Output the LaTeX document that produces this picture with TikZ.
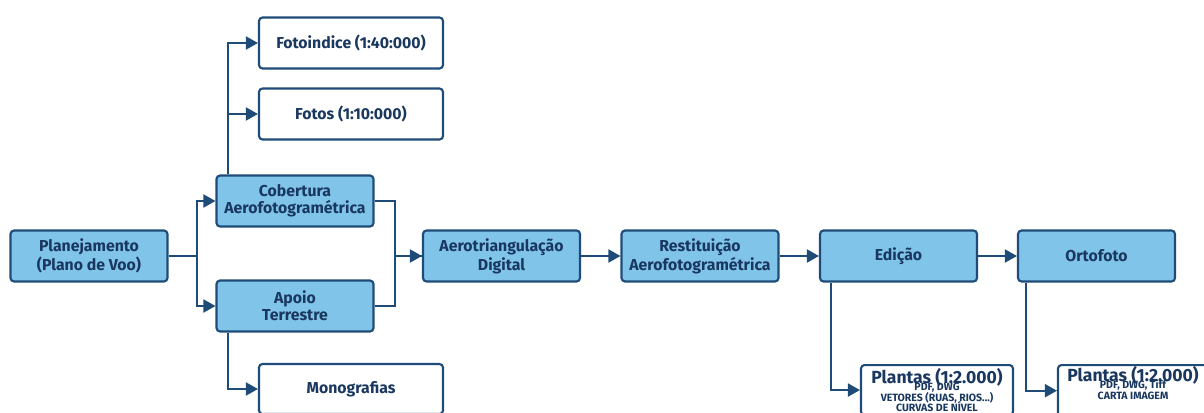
\documentclass[tikz,border=0pt]{standalone}
\usepackage{fontspec}
\setmainfont{Fira Sans}
\usetikzlibrary{arrows.meta,calc,positioning}
\definecolor{linhaazul}{RGB}{30,75,120}
\definecolor{caixaazul}{RGB}{128,196,234}
\definecolor{textoazul}{RGB}{25,55,95}
\newcommand{\titulo}{\fontsize{10}{10}\selectfont}
\newcommand{\miudo}{\fontsize{6}{6.4}\selectfont}

\tikzset{
  etapa/.style={draw=linhaazul, line width=1.2pt, fill=caixaazul, rounded corners=2pt,
    minimum width=3.14cm, minimum height=1.02cm, align=center, text=textoazul,
    font=\bfseries\fontsize{9}{9.5}\selectfont, inner sep=1pt},
  produto/.style={etapa, fill=white, minimum width=3.68cm},
  seta/.style={draw=linhaazul, line width=1.1pt, -{Triangle[length=0.24cm,width=0.26cm]}},
  liga/.style={draw=linhaazul, line width=1.1pt},
}

\begin{document}
\begin{tikzpicture}
    \useasboundingbox (0,0) rectangle (24.08,-8.26);

    % etapas
    \node[etapa] (plan) at (1.78,-5.12) {Planejamento\\(Plano de Voo)};
    \node[etapa] (cob) at (5.90,-4.02) {Cobertura\\Aerofotogramétrica};
    \node[etapa] (apoio) at (5.90,-6.12) {Apoio\\Terrestre};
    \node[etapa] (aero) at (10.03,-5.12) {Aerotriangulação\\Digital};
    \node[etapa] (rest) at (14.00,-5.12) {Restituição\\Aerofotogramétrica};
    \node[etapa] (edic) at (17.97,-5.12) {Edição};
    \node[etapa] (orto) at (21.93,-5.12) {Ortofoto};

    % produtos
    \node[produto] (fotoind) at (7.02,-0.86) {Fotoindice (1:40:000)};
    \node[produto] (fotos) at (7.02,-2.28) {Fotos (1:10:000)};
    \node[produto, minimum height=1.0cm] (mono) at (7.02,-7.78) {Monografias};
    \node[produto, minimum width=3.04cm, minimum height=1.0cm, anchor=north] (pl1) at (18.74,-7.28)
        {\titulo Plantas (1:2.000)\\[-5.5pt]
         \miudo PDF, DWG\\[-3.4pt]\miudo VETORES (RUAS, RIOS...)\\[-3.4pt]\miudo CURVAS DE NÍVEL};
    \node[produto, minimum width=3.0cm, minimum height=1.0cm, anchor=north] (pl2) at (22.66,-7.28)
        {\titulo Plantas (1:2.000)\\[-5.5pt]
         \miudo PDF, DWG, Tiff\\[-3.4pt]\miudo CARTA IMAGEM\\[-1pt]};

    % ligacoes
    \draw[liga] (plan.east) -- ++(0.56,0) coordinate (divide);
    \draw[seta] (divide) |- (cob.west);
    \draw[seta] (divide) |- (apoio.west);

    \draw[liga] (cob.east) -- ++(0.40,0) coordinate (juntaA) |- (aero.west);
    \draw[liga] (apoio.east) -- ++(0.40,0) coordinate (juntaB) |- (aero.west);
    \draw[seta] (juntaA |- aero.west) -- (aero.west);

    \draw[seta] ([xshift=0.26cm]cob.north west) |- (fotoind.west);
    \draw[seta] ([xshift=0.26cm]cob.north west) |- (fotos.west);
    \draw[seta] ([xshift=0.26cm]apoio.south west) |- (mono.west);

    \draw[seta] (aero) -- (rest);
    \draw[seta] (rest) -- (edic);
    \draw[seta] (edic) -- (orto);

    \draw[seta] ([xshift=0.24cm]edic.south west) |- (pl1.west);
    \draw[seta] ([xshift=0.18cm]orto.south west) |- (pl2.west);
\end{tikzpicture}
\end{document}
